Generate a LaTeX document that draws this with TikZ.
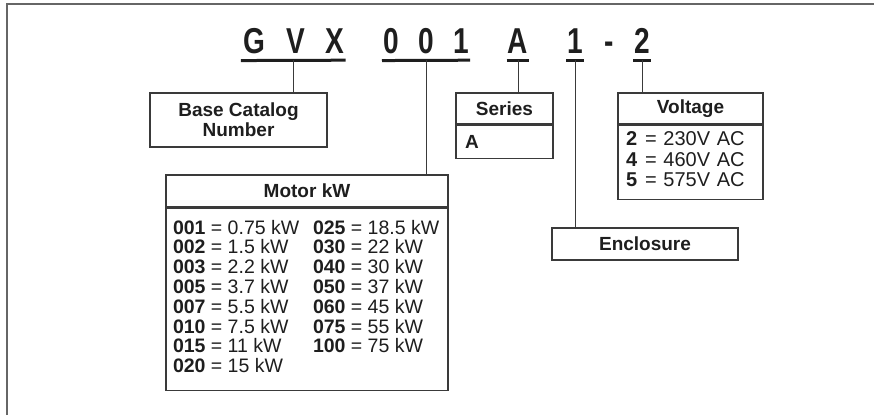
\documentclass[tikz,border=0pt]{standalone}
\usepackage{fontspec}
\usepackage{graphicx}
\setmainfont{Liberation Sans}
\usetikzlibrary{positioning}
\definecolor{linegray}{HTML}{3A3A3A}
\definecolor{inkgray}{HTML}{1E1E1E}
\tikzset{
  code/.style={font=\fontsize{36}{36}\selectfont\bfseries, text=inkgray, inner sep=0pt, anchor=base},
  bar/.style={line width=3pt, color=inkgray},
  lead/.style={line width=1pt, color=linegray},
  cell/.style={draw=linegray, line width=1.2pt, inner sep=0pt, text=inkgray, font=\fontsize{19.5}{19}\selectfont},
  head/.style={font=\fontsize{19}{20}\selectfont\bfseries},
}
\newcommand{\cond}[1]{\scalebox{0.78}[1]{#1}}
\begin{document}
\begin{tikzpicture}[x=1pt,y=-1pt]
  \useasboundingbox (0,0) rectangle (874,415);
  \draw[line width=2pt,color=gray!80!black] (7,415) -- (7,4) -- (874,4);

  \node[code] (cG) at (254,53) {\cond{G}};
  \node[code] (cV) at (296,53) {\cond{V}};
  \node[code] (cX) at (335,53) {\cond{X}};
  \node[code] (cZa) at (391,53) {\cond{0}};
  \node[code] (cZb) at (426,53) {\cond{0}};
  \node[code] (cOne) at (461,53) {\cond{1}};
  \node[code] (cA) at (518,53) {\cond{A}};
  \node[code] (cEn) at (575,53) {\cond{1}};
  \node[code] (cDash) at (609,53) {\cond{-}};
  \node[code] (cVo) at (642,53) {\cond{2}};

  \draw[bar] ([xshift=-2pt,yshift=-7pt]cG.south west) -- coordinate (uGVX) ([xshift=1pt,yshift=-7pt]cX.south east);
  \draw[bar] ([xshift=-1pt,yshift=-7pt]cZa.south west) -- coordinate (u001) ([xshift=1pt,yshift=-7pt]cOne.south east);
  \draw[bar] ([xshift=-1pt,yshift=-7pt]cA.south west) -- coordinate (uA) ([xshift=1pt,yshift=-7pt]cA.south east);
  \draw[bar] ([xshift=-1pt,yshift=-7pt]cEn.south west) -- coordinate (uEn) ([xshift=1pt,yshift=-7pt]cEn.south east);
  \draw[bar] ([xshift=-1pt,yshift=-7pt]cVo.south west) -- coordinate (uVo) ([xshift=1pt,yshift=-7pt]cVo.south east);

  \node[cell, head, minimum width=177pt, minimum height=54pt, align=center] (base) at (238.5,120) {Base Catalog\\Number};

  \node[cell, head, minimum width=282pt, minimum height=32pt] (motorhd) at (307,191) {Motor kW};
  \node[cell, minimum height=182pt, inner xsep=7pt, anchor=north] (motor) at (motorhd.south) {%
    \begin{tabular}{@{}p{140pt}@{}p{128pt}@{}}
      \textbf{001} = 0.75 kW & \textbf{025} = 18.5 kW\\
      \textbf{002} = 1.5 kW & \textbf{030} = 22 kW\\
      \textbf{003} = 2.2 kW & \textbf{040} = 30 kW\\
      \textbf{005} = 3.7 kW & \textbf{050} = 37 kW\\
      \textbf{007} = 5.5 kW & \textbf{060} = 45 kW\\
      \textbf{010} = 7.5 kW & \textbf{075} = 55 kW\\
      \textbf{015} = 11 kW & \textbf{100} = 75 kW\\
      \textbf{020} = 15 kW &
    \end{tabular}};

  \node[cell, head, minimum width=97pt, minimum height=31pt] (serieshd) at (504.5,108.5) {Series};
  \node[cell, head, minimum height=33pt, text width=79pt, inner xsep=9pt, align=left, anchor=north] (series) at (serieshd.south) {A};

  \node[cell, head, minimum width=145pt, minimum height=31pt] (volthd) at (690.5,108.5) {Voltage};
  \node[cell, minimum height=74pt, text width=129pt, inner xsep=8pt, align=left, anchor=north, font=\fontsize{20}{20.5}\selectfont] (volt) at (volthd.south) {%
    \begin{tabular}{@{}l@{\hspace{8pt}}l@{}}
      \textbf{2} & = 230V AC\\
      \textbf{4} & = 460V AC\\
      \textbf{5} & = 575V AC
    \end{tabular}};

  \node[cell, head, minimum width=186pt, minimum height=32pt] (encl) at (645,244) {Enclosure};

  \draw[lead] (uGVX) -- (uGVX |- base.north);
  \draw[lead] (u001) -- (u001 |- motorhd.north);
  \draw[lead] (uA) -- (uA |- serieshd.north);
  \draw[lead] (uEn) -- (uEn |- encl.north);
  \draw[lead] (uVo) -- (uVo |- volthd.north);
\end{tikzpicture}
\end{document}
